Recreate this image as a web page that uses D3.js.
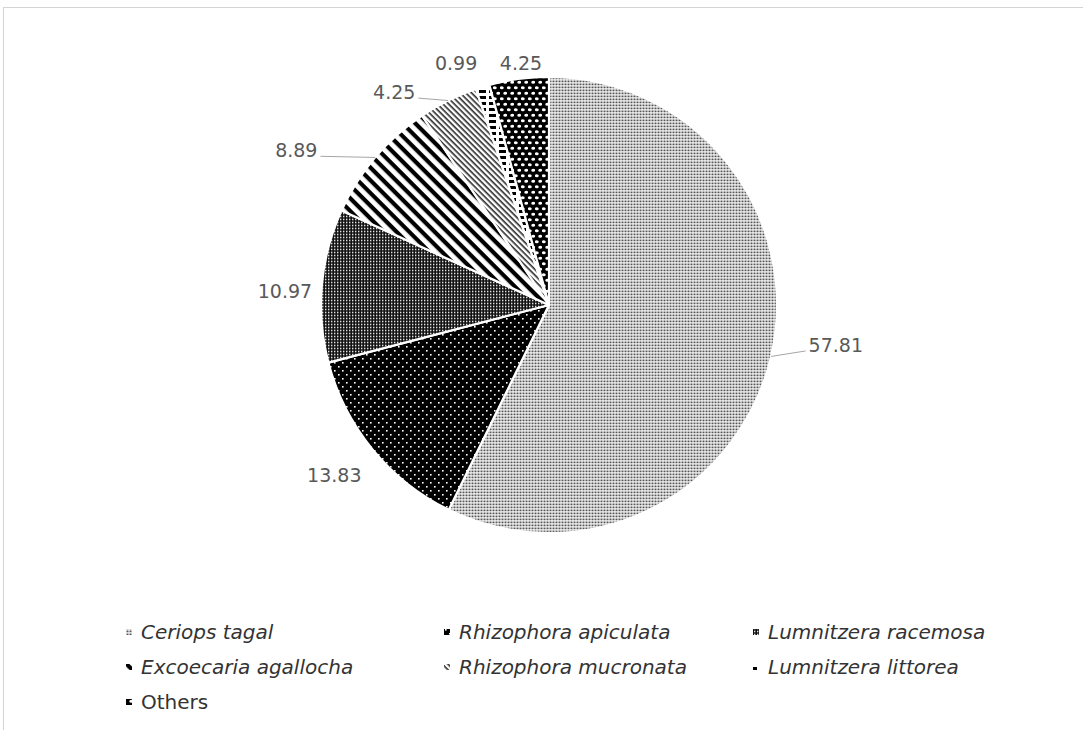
<!DOCTYPE html>
<html>
<head>
<meta charset="utf-8">
<script src="https://cdn.jsdelivr.net/npm/d3@7"></script>
<style>
  html, body { margin: 0; padding: 0; background: #fff; }
  svg { display: block; }
</style>
</head>
<body>
<svg id="chart" width="1083" height="730"></svg>
<script>
// Species composition (%) of the mangrove stand
const species = [
  "Ceriops tagal", "Rhizophora apiculata", "Lumnitzera racemosa",
  "Excoecaria agallocha", "Rhizophora mucronata", "Lumnitzera littorea", "Others"
];
const shares = [57.81, 13.83, 10.97, 8.89, 4.25, 0.99, 4.25];
const shareLabels = ["57.81", "13.83", "10.97", "8.89", "4.25", "0.99", "4.25"];

// Label placement around the pie: angle (degrees, clockwise from 12 o'clock) and
// distance from the centre as a multiple of the radius; leader = draw a connector
const labelAngle = [97.9, 231.7, 273.1, 301.5, 324.0, 339.0, 353.4];
const labelDist  = [1.27, 1.20, 1.16, 1.30, 1.155, 1.137, 1.068];
const hasLeader  = [true, false, false, true, true, false, false];

const W = 1083, H = 730;
const cx = 549, cy = 305, R = 228;

const svg = d3.select("#chart");
const defs = svg.append("defs");

// Frame
svg.append("rect")
  .attr("x", 3.5).attr("y", 7.5)
  .attr("width", W + 20).attr("height", H + 20)
  .attr("fill", "none").attr("stroke", "#d4d4d4").attr("stroke-width", 1);

// ---- Fill patterns, one per species ----
function pattern(id, w, h, bg, transform) {
  const p = defs.append("pattern")
    .attr("id", id).attr("patternUnits", "userSpaceOnUse")
    .attr("width", w).attr("height", h);
  if (transform) p.attr("patternTransform", transform);
  p.append("rect").attr("width", w).attr("height", h).attr("fill", bg);
  return p;
}

// Ceriops tagal: fine grey dots in vertical columns
{
  const p = pattern("pat0", 3, 3, "#fff");
  p.append("rect").attr("x", 0.5).attr("y", 0.5).attr("width", 2).attr("height", 1.8).attr("fill", "#555");
}
// Rhizophora apiculata: black with sparse white dots
{
  const p = pattern("pat1", 8, 8, "#000");
  p.append("rect").attr("x", 1).attr("y", 1).attr("width", 1.6).attr("height", 1.6).attr("fill", "#fff");
  p.append("rect").attr("x", 5).attr("y", 5).attr("width", 1.6).attr("height", 1.6).attr("fill", "#fff");
}
// Lumnitzera racemosa: dense dark grid with small white openings
{
  const p = pattern("pat2", 3, 3, "#111");
  p.append("rect").attr("x", 1).attr("y", 0.7).attr("width", 1.4).attr("height", 1.6).attr("fill", "#e0e0e0");
}
// Excoecaria agallocha: wide diagonal stripes
{
  const p = pattern("pat3", 9, 9, "#fff", "rotate(45)");
  p.append("rect").attr("x", 0).attr("y", 0).attr("width", 9).attr("height", 4.2).attr("fill", "#000");
}
// Rhizophora mucronata: narrow diagonal stripes
{
  const p = pattern("pat4", 4, 4, "#fff", "rotate(45)");
  p.append("rect").attr("x", 0).attr("y", 0).attr("width", 4).attr("height", 1.6).attr("fill", "#2a2a2a");
}
// Lumnitzera littorea: horizontal dashes
{
  const p = pattern("pat5", 10, 6, "#fff");
  p.append("rect").attr("x", 0).attr("y", 1).attr("width", 7).attr("height", 3).attr("fill", "#000");
}
// Others: black with open white dots
{
  const p = pattern("pat6", 7, 11, "#000");
  p.append("ellipse").attr("cx", 1.75).attr("cy", 2.75).attr("rx", 2.0).attr("ry", 1.5).attr("fill", "#fff");
  p.append("ellipse").attr("cx", 5.25).attr("cy", 8.25).attr("rx", 2.0).attr("ry", 1.5).attr("fill", "#fff");
}

const fills = species.map((d, i) => `url(#pat${i})`);

// ---- Pie ----
const data = species.map((name, i) => ({ name, value: shares[i], label: shareLabels[i], i }));
const pie = d3.pie().value(d => d.value).sort(null).startAngle(0).endAngle(2 * Math.PI);
const arcs = pie(data);
const arc = d3.arc().innerRadius(0).outerRadius(R);

const g = svg.append("g").attr("transform", `translate(${cx},${cy})`);
g.selectAll("path.slice")
  .data(arcs)
  .join("path")
  .attr("class", "slice")
  .attr("d", arc)
  .attr("fill", d => fills[d.data.i])
  .attr("stroke", "#fff")
  .attr("stroke-width", 2.2)
  .attr("stroke-linejoin", "round");

// ---- Value labels ----
const rad = deg => deg * Math.PI / 180;
const labelFont = "DejaVu Sans, Verdana, sans-serif";

arcs.forEach(a => {
  const i = a.data.i;
  const ang = rad(labelAngle[i]);
  const lx = Math.sin(ang) * R * labelDist[i];
  const ly = -Math.cos(ang) * R * labelDist[i];
  const t = g.append("text")
    .attr("x", lx).attr("y", ly)
    .attr("text-anchor", "middle")
    .attr("dominant-baseline", "central")
    .attr("font-family", labelFont)
    .attr("font-size", 19)
    .attr("fill", "#595959")
    .text(a.data.label);

  if (hasLeader[i]) {
    const bb = t.node().getBBox();
    const mid = (a.startAngle + a.endAngle) / 2;
    const ex = Math.sin(mid) * R, ey = -Math.cos(mid) * R;
    const right = ex > lx;
    const tx = right ? bb.x + bb.width + 3 : bb.x - 3;
    const ty = bb.y + bb.height * 0.78;
    g.append("line")
      .attr("x1", tx).attr("y1", ty)
      .attr("x2", ex).attr("y2", ey)
      .attr("stroke", "#a6a6a6").attr("stroke-width", 1);
  }
});

// ---- Legend ----
const legendCols = [126, 444, 753];
const legendRow0 = 632, legendRowStep = 35;

const lg = svg.append("g").attr("class", "legend");
data.forEach((d, k) => {
  const col = k % 3, row = Math.floor(k / 3);
  const x = legendCols[col], y = legendRow0 + row * legendRowStep;
  lg.append("rect")
    .attr("x", x).attr("y", y - 3)
    .attr("width", 6).attr("height", 6)
    .attr("fill", fills[d.i]);
  lg.append("text")
    .attr("x", x + 15).attr("y", y)
    .attr("dominant-baseline", "central")
    .attr("font-family", labelFont)
    .attr("font-style", d.name === "Others" ? "normal" : "italic")
    .attr("font-size", 20)
    .attr("fill", "#333")
    .text(d.name);
});
</script>
</body>
</html>
